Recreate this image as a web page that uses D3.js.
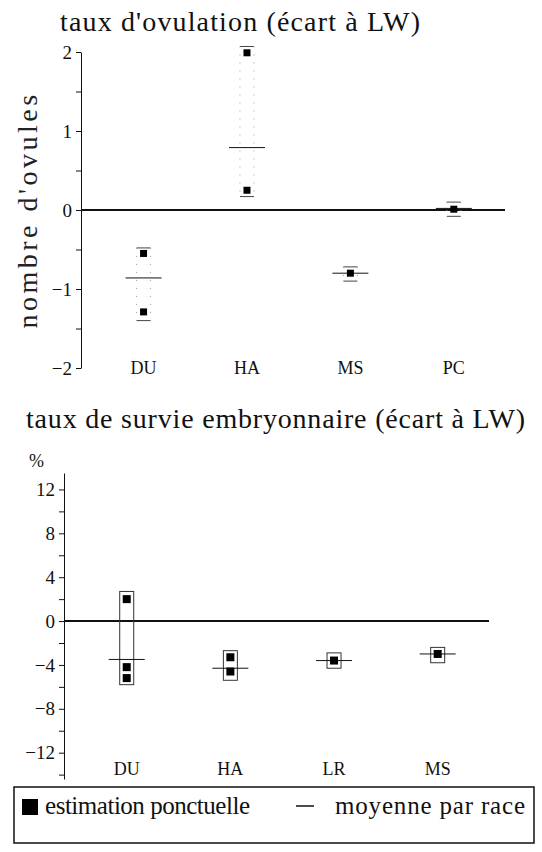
<!DOCTYPE html>
<html>
<head>
<meta charset="utf-8">
<script src="https://cdnjs.cloudflare.com/ajax/libs/d3/7.8.5/d3.min.js"></script>
<style>
  body { margin: 0; background: #fff; }
  text { font-family: "Liberation Serif", serif; fill: #111; }
  .axis path, .axis line { stroke: #111; }
</style>
</head>
<body>
<div id="chart"></div>
<script>
// ovulation rate (deviation from LW), number of ova
var ovuCats = ["DU", "HA", "MS", "PC"];
var ovuPoints = [[-0.55, -1.29], [1.99, 0.25], [-0.80], [0.01]];
var ovuMeans = [-0.86, 0.79, -0.80, 0.02];
var ovuLow = [-1.40, 0.17, -0.90, -0.08];
var ovuHigh = [-0.48, 2.07, -0.72, 0.10];
var ovuTicks = [-2, -1.5, -1, -0.5, 0, 0.5, 1, 1.5, 2];

// embryo survival rate (deviation from LW), %
var survCats = ["DU", "HA", "LR", "MS"];
var survPoints = [[2.0, -4.2, -5.2], [-3.3, -4.6], [-3.6], [-3.0]];
var survMeans = [-3.5, -4.3, -3.6, -3.0];
var survLow = [-5.8, -5.4, -4.3, -3.8];
var survHigh = [2.7, -2.7, -2.9, -2.4];
var survTicks = [-14, -12, -10, -8, -6, -4, -2, 0, 2, 4, 6, 8, 10, 12];

var svgWidth = 542;
var svgHeight = 852;

var svg = d3.select("#chart")
  .append("svg")
  .attr("width", svgWidth)
  .attr("height", svgHeight);

// draws one panel: axis, zero line, boxes, points, means
function drawPanel(cfg) {
  var g = svg.append("g");

  var x = d3.scalePoint()
    .domain(cfg.cats)
    .range(cfg.xRange)
    .padding(0.55)
    .align(0.55);

  var y = d3.scaleLinear()
    .domain(cfg.yDomain)
    .range(cfg.yRange);

  var leftAxis = d3.axisLeft(y)
    .tickValues(cfg.ticks)
    .tickSize(5)
    .tickSizeOuter(0)
    .tickPadding(4)
    .tickFormat(function(d) { return cfg.labelled(d) ? d3.format("")(d) : ""; });

  g.append("g")
    .attr("class", "axis")
    .attr("transform", `translate(${cfg.xRange[0]}, 0)`)
    .call(leftAxis)
    .call(function(a) {
      a.selectAll("text").style("font-size", "19px").style("font-family", "Liberation Serif");
    });

  // zero line
  g.append("line")
    .attr("x1", cfg.xRange[0])
    .attr("x2", cfg.xRange[1])
    .attr("y1", y(0))
    .attr("y2", y(0))
    .attr("stroke", "#111")
    .attr("stroke-width", 2);

  // category labels
  g.selectAll(".cat")
    .data(cfg.cats)
    .enter()
    .append("text")
    .attr("x", d => x(d))
    .attr("y", cfg.labelY)
    .attr("text-anchor", "middle")
    .style("font-size", "18px")
    .text(d => d);

  var boxW = 14;
  var boxes = g.selectAll(".box")
    .data(cfg.cats)
    .enter()
    .append("g");

  if (cfg.dottedSides) {
    // caps solid, sides dotted
    boxes.append("line")
      .attr("x1", d => x(d) - boxW / 2).attr("x2", d => x(d) + boxW / 2)
      .attr("y1", (d, i) => y(cfg.high[i])).attr("y2", (d, i) => y(cfg.high[i]))
      .attr("stroke", "#444");
    boxes.append("line")
      .attr("x1", d => x(d) - boxW / 2).attr("x2", d => x(d) + boxW / 2)
      .attr("y1", (d, i) => y(cfg.low[i])).attr("y2", (d, i) => y(cfg.low[i]))
      .attr("stroke", "#444");
    [-1, 1].forEach(function(s) {
      boxes.append("line")
        .attr("x1", d => x(d) + s * boxW / 2).attr("x2", d => x(d) + s * boxW / 2)
        .attr("y1", (d, i) => y(cfg.high[i])).attr("y2", (d, i) => y(cfg.low[i]))
        .attr("stroke", "#999")
        .attr("stroke-dasharray", "1,7");
    });
  } else {
    boxes.append("rect")
      .attr("x", d => x(d) - boxW / 2)
      .attr("y", (d, i) => y(cfg.high[i]))
      .attr("width", boxW)
      .attr("height", (d, i) => y(cfg.low[i]) - y(cfg.high[i]))
      .attr("fill", "none")
      .attr("stroke", "#333");
  }

  // mean per breed
  g.selectAll(".mean")
    .data(cfg.cats)
    .enter()
    .append("line")
    .attr("x1", d => x(d) - 18)
    .attr("x2", d => x(d) + 18)
    .attr("y1", (d, i) => y(cfg.means[i]))
    .attr("y2", (d, i) => y(cfg.means[i]))
    .attr("stroke", "#111");

  // point estimates
  var flat = [];
  cfg.cats.forEach(function(c, i) {
    cfg.points[i].forEach(function(v) { flat.push({ cat: c, v: v }); });
  });
  var sq = cfg.sq;
  g.selectAll(".pt")
    .data(flat)
    .enter()
    .append("rect")
    .attr("x", d => x(d.cat) - sq / 2)
    .attr("y", d => y(d.v) - sq / 2)
    .attr("width", sq)
    .attr("height", sq)
    .attr("fill", "#000");

  return g;
}

// ---- top panel
svg.append("text")
  .attr("x", 60)
  .attr("y", 31)
  .attr("textLength", 360)
  .style("font-size", "28px")
  .text("taux d'ovulation  (écart à LW)");

drawPanel({
  cats: ovuCats, points: ovuPoints, means: ovuMeans, low: ovuLow, high: ovuHigh,
  ticks: ovuTicks,
  labelled: d => Number.isInteger(d),
  xRange: [81, 505],
  yDomain: [-2, 2],
  yRange: [368, 52],
  labelY: 374,
  dottedSides: true,
  sq: 7
});

svg.append("text")
  .attr("transform", "translate(37, 210) rotate(-90)")
  .attr("text-anchor", "middle")
  .style("font-size", "28px")
  .style("letter-spacing", "3.5px")
  .style("fill", "#222")
  .text("nombre d'ovules");

// ---- bottom panel
svg.append("text")
  .attr("x", 26)
  .attr("y", 428)
  .attr("textLength", 499)
  .style("font-size", "28px")
  .text("taux de survie embryonnaire  (écart à LW)");

svg.append("text")
  .attr("x", 29)
  .attr("y", 467)
  .style("font-size", "18px")
  .text("%");

drawPanel({
  cats: survCats, points: survPoints, means: survMeans, low: survLow, high: survHigh,
  ticks: survTicks,
  labelled: d => d % 4 === 0 && Math.abs(d) <= 12,
  xRange: [64, 489],
  yDomain: [-14.4, 13.5],
  yRange: [779, 473],
  labelY: 775,
  dottedSides: false,
  sq: 8
});

// ---- legend
var legend = svg.append("g");
legend.append("rect")
  .attr("x", 14).attr("y", 787)
  .attr("width", 520).attr("height", 56)
  .attr("fill", "none")
  .attr("stroke", "#111")
  .attr("stroke-width", 1.5);
legend.append("rect")
  .attr("x", 22).attr("y", 799)
  .attr("width", 16).attr("height", 16)
  .attr("fill", "#000");
legend.append("text")
  .attr("x", 45).attr("y", 814)
  .attr("textLength", 205)
  .style("font-size", "25px")
  .text("estimation ponctuelle");
legend.append("line")
  .attr("x1", 296).attr("x2", 314)
  .attr("y1", 806).attr("y2", 806)
  .attr("stroke", "#111")
  .attr("stroke-width", 1.5);
legend.append("text")
  .attr("x", 335).attr("y", 814)
  .attr("textLength", 190)
  .style("font-size", "25px")
  .text("moyenne par race");
</script>
</body>
</html>
